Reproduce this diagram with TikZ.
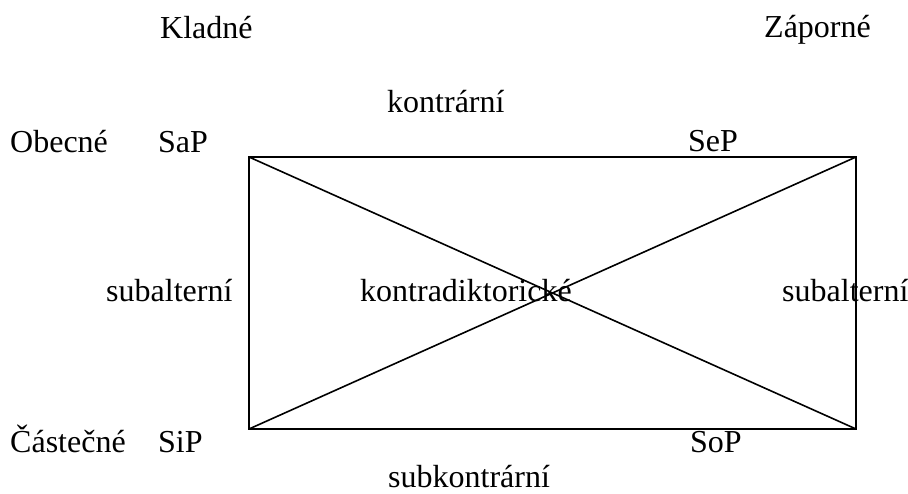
\documentclass[tikz,border=0pt]{standalone}
\usepackage{fontspec}
\setmainfont{Liberation Serif}
\tikzset{
  label text/.style={anchor=base west, inner sep=0pt, font=\fontsize{32}{38}\selectfont},
  square line/.style={line width=1.6pt, line join=miter}
}

\begin{document}
\begin{tikzpicture}[x=1pt, y=-1pt]
  \useasboundingbox (0,0) rectangle (908,494);

  \coordinate (a) at (249,157);
  \coordinate (e) at (856,157);
  \coordinate (i) at (249,429);
  \coordinate (o) at (856,429);

  \draw[square line] (a) -- (e) -- (o) -- (i) -- cycle;
  \draw[square line] (a) -- (o);
  \draw[square line] (i) -- (e);

  \node[label text] (kladne) at (160,39) {Kladné};
  \node[label text] (zaporne) at (764,38) {Záporné};
  \node[label text] (kontrarni) at (387,113) {kontrární};
  \node[label text] (obecne) at (10,153) {Obecné};
  \node[label text] (sap) at (158,153) {SaP};
  \node[label text] (sep) at (688,152) {SeP};
  \node[label text] (subl) at (106,302) {subalterní};
  \node[label text] (kontra) at (360,302) {kontradiktorické};
  \node[label text] (subr) at (782,302) {subalterní};
  \node[label text] (castecne) at (10,452) {Částečné};
  \node[label text] (sip) at (158,452) {SiP};
  \node[label text] (sop) at (690,452) {SoP};
  \node[label text] (subk) at (388,487) {subkontrární};
\end{tikzpicture}
\end{document}
